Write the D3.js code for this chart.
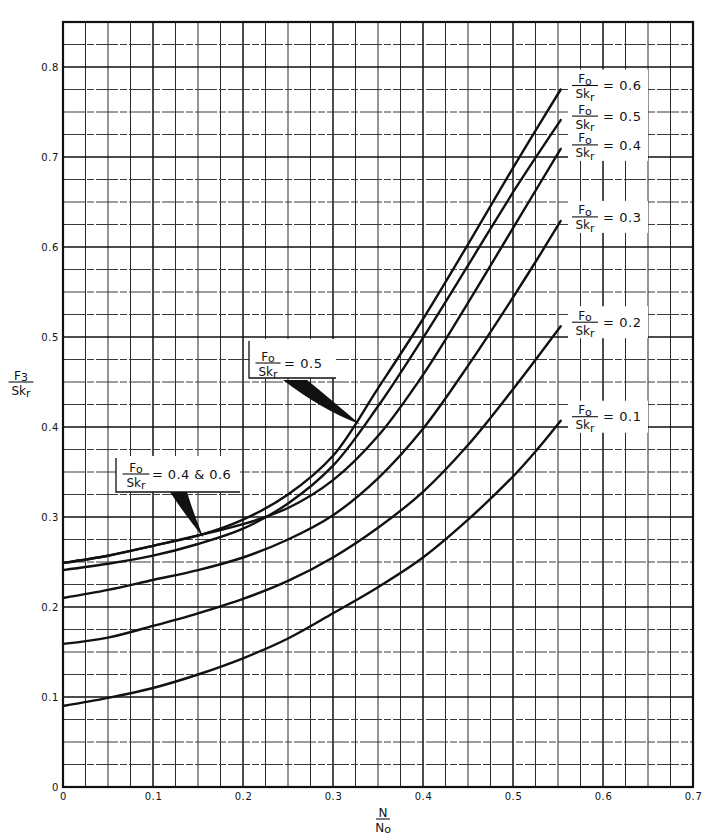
<!DOCTYPE html>
<html>
<head>
<meta charset="utf-8">
<script src="https://cdn.jsdelivr.net/npm/d3@7"></script>
<style>
  body { margin: 0; background: #fff; }
  text { font-family: "DejaVu Sans", sans-serif; fill: #111; }
</style>
</head>
<body>
<div id="chart"></div>
<script>
// axis ticks
const xTicks = [0, 0.1, 0.2, 0.3, 0.4, 0.5, 0.6, 0.7];
const yTicks = [0, 0.1, 0.2, 0.3, 0.4, 0.5, 0.6, 0.7, 0.8];

// Fo/Skr ratio of each curve
const ratios = [0.1, 0.2, 0.3, 0.4, 0.5, 0.6];

// curves: [N/No, F3/Skr]
const curve01 = [[0, 0.09], [0.05, 0.099], [0.1, 0.11], [0.15, 0.125], [0.2, 0.143], [0.25, 0.165],
  [0.3, 0.193], [0.35, 0.222], [0.4, 0.255], [0.45, 0.297], [0.5, 0.345], [0.526, 0.374], [0.553, 0.407]];
const curve02 = [[0, 0.159], [0.05, 0.166], [0.1, 0.179], [0.15, 0.193], [0.2, 0.209], [0.25, 0.229],
  [0.3, 0.255], [0.35, 0.288], [0.4, 0.328], [0.45, 0.38], [0.5, 0.442], [0.553, 0.512]];
const curve03 = [[0, 0.21], [0.05, 0.219], [0.1, 0.23], [0.15, 0.241], [0.2, 0.255], [0.25, 0.275],
  [0.3, 0.302], [0.35, 0.343], [0.4, 0.398], [0.452, 0.471], [0.5, 0.544], [0.526, 0.585], [0.553, 0.629]];
const curve04 = [[0, 0.249], [0.05, 0.257], [0.1, 0.268], [0.156, 0.281], [0.2, 0.292], [0.25, 0.31],
  [0.3, 0.341], [0.35, 0.39], [0.4, 0.458], [0.45, 0.538], [0.5, 0.621], [0.553, 0.709]];
const curve05 = [[0, 0.241], [0.05, 0.248], [0.1, 0.257], [0.15, 0.27], [0.2, 0.287], [0.25, 0.315],
  [0.3, 0.357], [0.35, 0.423], [0.4, 0.499], [0.454, 0.586], [0.504, 0.667], [0.553, 0.741]];
const curve06 = [[0, 0.249], [0.05, 0.257], [0.1, 0.268], [0.156, 0.281], [0.2, 0.297], [0.25, 0.325],
  [0.3, 0.368], [0.35, 0.443], [0.4, 0.52], [0.45, 0.603], [0.5, 0.688], [0.553, 0.775]];

const curves = [curve01, curve02, curve03, curve04, curve05, curve06];

// callouts: text and the point they aim at
const calloutTexts = ["0.5", "0.4 & 0.6"];
const calloutTargets = [[0.33, 0.403], [0.156, 0.277]];

const W = 720, H = 840;

const svg = d3.select("#chart").append("svg")
  .attr("width", W)
  .attr("height", H)
  .style("background", "#fff");

const x = d3.scaleLinear().domain([0, 0.7]).range([63, 693]);
const y = d3.scaleLinear().domain([0, 0.85]).range([787, 22]);

// grid every 0.025
const xGrid = d3.range(0, 29).map(i => i * 0.025);
const yGrid = d3.range(0, 35).map(i => i * 0.025);

const grid = svg.append("g");
grid.selectAll("line.v")
  .data(xGrid)
  .enter()
  .append("line")
  .attr("x1", d => x(d)).attr("x2", d => x(d))
  .attr("y1", y(0)).attr("y2", y(0.85))
  .attr("stroke", (d, i) => i % 4 === 0 ? "#111" : "#2a2a2a")
  .attr("stroke-width", (d, i) => i % 4 === 0 ? 1.5 : 1);

grid.selectAll("line.h")
  .data(yGrid)
  .enter()
  .append("line")
  .attr("x1", x(0)).attr("x2", x(0.7))
  .attr("y1", d => y(d)).attr("y2", d => y(d))
  .attr("stroke", (d, i) => i % 4 === 0 ? "#111" : "#3a3a3a")
  .attr("stroke-width", (d, i) => i % 4 === 0 ? 1.5 : 1)
  .attr("stroke-dasharray", (d, i) => i % 4 === 0 ? null : "22,2,7,2");

// axes (labels only)
const yAxis = svg.append("g")
  .attr("transform", "translate(" + x(0) + ",0)")
  .call(d3.axisLeft(y).tickValues(yTicks).tickSize(0).tickPadding(4)
    .tickFormat(d => d === 0 ? "0" : d.toFixed(1)));
const xAxis = svg.append("g")
  .attr("transform", "translate(0," + y(0) + ")")
  .call(d3.axisBottom(x).tickValues(xTicks).tickSize(0).tickPadding(6)
    .tickFormat(d => d === 0 ? "0" : d.toFixed(1)));
[xAxis, yAxis].forEach(a => {
  a.select(".domain").remove();
  a.selectAll("text")
    .attr("font-family", "DejaVu Sans, sans-serif")
    .attr("font-size", 10)
    .attr("letter-spacing", 0.6)
    .attr("fill", "#111");
});

// white patches behind the end labels
const endLabels = svg.append("g");
ratios.forEach((r, i) => {
  const last = curves[i][curves[i].length - 1];
  const ly = y(last[1]) - 4;
  endLabels.append("rect")
    .attr("x", 568).attr("y", ly - 16)
    .attr("width", 80).attr("height", 32)
    .attr("fill", "#fff");
});

// callout boxes
const boxes = [
  {x0: 249, x1: 336, y0: 341, y1: 378},
  {x0: 116, x1: 240, y0: 458, y1: 492}
];
boxes.forEach(b => {
  svg.append("rect")
    .attr("x", b.x0).attr("y", b.y0 - 2)
    .attr("width", b.x1 - b.x0).attr("height", b.y1 - b.y0 + 2)
    .attr("fill", "#fff");
  svg.append("path")
    .attr("d", "M" + b.x0 + "," + b.y0 + "V" + b.y1 + "H" + b.x1)
    .attr("fill", "none")
    .attr("stroke", "#111")
    .attr("stroke-width", 1.3);
});

// curves
const line = d3.line()
  .x(d => x(d[0]))
  .y(d => y(d[1]))
  .curve(d3.curveCatmullRom.alpha(0.5));

svg.append("g")
  .selectAll("path")
  .data(curves)
  .enter()
  .append("path")
  .attr("d", line)
  .attr("fill", "none")
  .attr("stroke", "#111")
  .attr("stroke-width", 2.4)
  .attr("stroke-linecap", "round");

// fraction helper
function fraction(g, cx, cy, num, numSub, den, denSub, barW, size) {
  const f = g.append("g").attr("transform", "translate(" + cx + "," + cy + ")");
  f.append("line")
    .attr("x1", -barW / 2).attr("x2", barW / 2)
    .attr("stroke", "#111").attr("stroke-width", 1.1);
  const t1 = f.append("text")
    .attr("text-anchor", "middle")
    .attr("y", -2.5)
    .style("font-size", size + "px");
  t1.append("tspan").text(num);
  t1.append("tspan").attr("dy", 1.5).style("font-size", (size - 1) + "px").text(numSub);
  const t2 = f.append("text")
    .attr("text-anchor", "middle")
    .attr("y", size + 0.5)
    .style("font-size", size + "px");
  t2.append("tspan").text(den);
  t2.append("tspan").attr("dy", 2.5).style("font-size", (size - 1) + "px").text(denSub);
}

// end labels
ratios.forEach((r, i) => {
  const last = curves[i][curves[i].length - 1];
  const ly = y(last[1]) - 4;
  fraction(endLabels, 585, ly, "F", "o", "Sk", "r", 26, 12);
  endLabels.append("text")
    .attr("x", 603).attr("y", ly)
    .attr("dy", "0.36em")
    .attr("letter-spacing", 0.6)
    .style("font-size", "13px")
    .text("= " + r.toFixed(1));
});

// callouts
const calloutG = svg.append("g");
fraction(calloutG, 268, 363, "F", "o", "Sk", "r", 25, 12);
calloutG.append("text")
  .attr("x", 284).attr("y", 363).attr("dy", "0.36em")
  .attr("letter-spacing", 0.6)
  .style("font-size", "13px")
  .text("= " + calloutTexts[0]);
fraction(calloutG, 136, 474, "F", "o", "Sk", "r", 27, 12);
calloutG.append("text")
  .attr("x", 152).attr("y", 474).attr("dy", "0.36em")
  .attr("letter-spacing", 0.4)
  .style("font-size", "13px")
  .text("= " + calloutTexts[1]);

// pointers (black wedges) from the boxes to their curves
const t1 = [x(calloutTargets[0][0]), y(calloutTargets[0][1])];
calloutG.append("path")
  .attr("d", "M283,380 H307 Q322,392 " + t1[0] + "," + t1[1] +
    " Q322,410 283,380 Z")
  .attr("fill", "#111");
const t2 = [x(calloutTargets[1][0]), y(calloutTargets[1][1])];
calloutG.append("path")
  .attr("d", "M170,492 H187 Q193,512 " + t2[0] + "," + t2[1] +
    " Q183,512 170,492 Z")
  .attr("fill", "#111");

// axis titles
fraction(svg, 21, 382, "F", "3", "Sk", "r", 25, 12);
const xt = svg.append("g").attr("transform", "translate(383,819)");
xt.append("line").attr("x1", -7).attr("x2", 7).attr("stroke", "#111").attr("stroke-width", 1.1);
xt.append("text").attr("text-anchor", "middle").attr("y", -2.5).style("font-size", "12px").text("N");
const nt = xt.append("text").attr("text-anchor", "middle").attr("y", 12.5).style("font-size", "12px");
nt.append("tspan").text("N");
nt.append("tspan").attr("dy", 1.5).style("font-size", "11px").text("o");

// plot border
svg.append("rect")
  .attr("x", x(0)).attr("y", y(0.85))
  .attr("width", x(0.7) - x(0))
  .attr("height", y(0) - y(0.85))
  .attr("fill", "none")
  .attr("stroke", "#111")
  .attr("stroke-width", 2.2);
</script>
</body>
</html>
